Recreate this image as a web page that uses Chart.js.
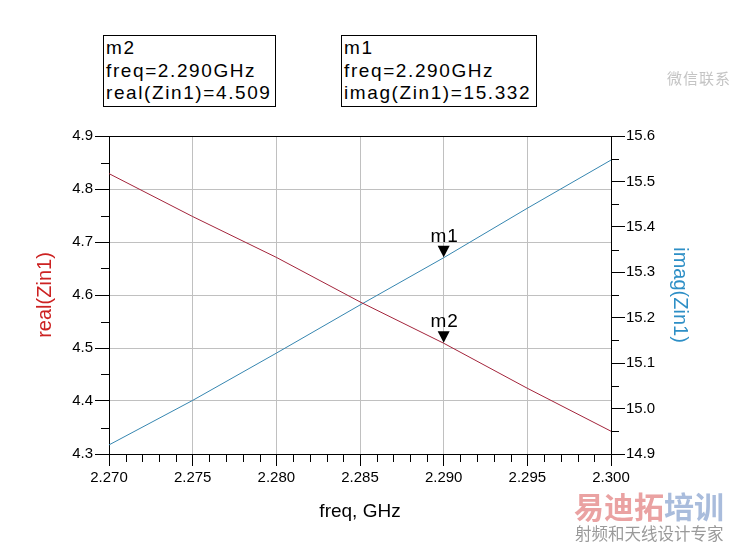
<!DOCTYPE html>
<html><head><meta charset="utf-8">
<script src="https://cdn.jsdelivr.net/npm/chart.js@4"></script>
<style>
html,body{margin:0;padding:0;background:#fff;}
#wrap{position:relative;width:734px;height:548px;overflow:hidden;}
#c{position:absolute;left:0;top:0;}
.box{position:absolute;border:1px solid #000;font-family:"Liberation Sans",Arial,sans-serif;font-size:19px;line-height:22.5px;letter-spacing:1.6px;padding:1px 0 0 2px;box-sizing:border-box;white-space:nowrap;color:#000;background:#fff}
.wm{position:absolute;font-family:"Noto Sans CJK SC",sans-serif;white-space:nowrap;line-height:1}
</style></head>
<body><div id="wrap"><canvas id="c" width="734" height="548"></canvas>
<div class="box" style="left:103px;top:35px;width:173px;height:72px">m2<br>freq=2.290GHz<br>real(Zin1)=4.509</div>
<div class="box" style="left:341px;top:35px;width:196px;height:72px">m1<br>freq=2.290GHz<br>imag(Zin1)=15.332</div>
<div class="wm" style="left:667px;top:70px;font-size:15px;color:#c4c4c4;letter-spacing:1px">微信联系</div>
<div class="wm" style="left:574px;top:490px;font-size:30px;font-weight:bold"><span style="color:#eaa2a2">易迪拓</span><span style="color:#a9bcdc">培训</span></div>
<div class="wm" style="left:575px;top:525px;font-size:16.5px;color:#9a9a9a">射频和天线设计专家</div>
</div>
<script>
// ---- data ----
const freq = [2.270, 2.275, 2.280, 2.285, 2.290, 2.295, 2.300];
const realZin1 = [4.829, 4.748, 4.671, 4.587, 4.509, 4.424, 4.343];
const imagZin1 = [14.920, 15.018, 15.122, 15.228, 15.332, 15.441, 15.547];
const xTicks = [2.270, 2.275, 2.280, 2.285, 2.290, 2.295, 2.300];
const yLeftTicks = [4.3, 4.4, 4.5, 4.6, 4.7, 4.8, 4.9];
const yRightTicks = [14.9, 15.0, 15.1, 15.2, 15.3, 15.4, 15.5, 15.6];
const markerNames = ['m1', 'm2'];
const markerFreq = [2.290, 2.290];
const markerValues = [15.332, 4.509];
const markerAxes = ['y1', 'y'];

const RED = '#a3243b', BLUE = '#3686b0';
const tickFont = {family: '"Liberation Sans", Arial, sans-serif', size: 15};
const titleFontF = '"Liberation Sans", Arial, sans-serif';

function setTicks(arr) { return s => { s.ticks = arr.map(v => ({value: v})); }; }

const extras = {
  id: 'extras',
  afterDraw(chart) {
    const ctx = chart.ctx, a = chart.chartArea;
    const sx = chart.scales.x, sy = chart.scales.y, sy1 = chart.scales.y1;
    ctx.save();
    ctx.strokeStyle = '#000'; ctx.lineWidth = 1;
    // top frame line
    ctx.beginPath(); ctx.moveTo(a.left, Math.round(a.top) + 0.5); ctx.lineTo(a.right + 1, Math.round(a.top) + 0.5); ctx.stroke();
    // minor ticks
    ctx.beginPath();
    for (let i = 0; i < xTicks.length - 1; i++) {
      for (let k = 1; k < 5; k++) {
        const v = xTicks[i] + (xTicks[i + 1] - xTicks[i]) * k / 5;
        const px = Math.round(sx.getPixelForValue(v)) + 0.5;
        ctx.moveTo(px, a.bottom); ctx.lineTo(px, a.bottom + 8);
      }
    }
    for (let i = 0; i < yLeftTicks.length - 1; i++) {
      const v = (yLeftTicks[i] + yLeftTicks[i + 1]) / 2;
      const py = Math.round(sy.getPixelForValue(v)) + 0.5;
      ctx.moveTo(a.left, py); ctx.lineTo(a.left - 8, py);
    }
    for (let i = 0; i < yRightTicks.length - 1; i++) {
      const v = (yRightTicks[i] + yRightTicks[i + 1]) / 2;
      const py = Math.round(sy1.getPixelForValue(v)) + 0.5;
      ctx.moveTo(a.right, py); ctx.lineTo(a.right + 8, py);
    }
    ctx.stroke();
    // markers
    ctx.fillStyle = '#000';
    ctx.font = '19px ' + titleFontF;
    ctx.textAlign = 'center'; ctx.textBaseline = 'alphabetic';
    try { ctx.letterSpacing = '1px'; } catch (e) {}
    for (let i = 0; i < markerNames.length; i++) {
      const px = sx.getPixelForValue(markerFreq[i]);
      const py = chart.scales[markerAxes[i]].getPixelForValue(markerValues[i]);
      ctx.beginPath();
      ctx.moveTo(px, py - 0.5);
      ctx.lineTo(px - 6, py - 12);
      ctx.lineTo(px + 6, py - 12);
      ctx.closePath(); ctx.fill();
      ctx.fillText(markerNames[i], px + 1, py - 16);
    }
    ctx.restore();
  }
};

new Chart(document.getElementById('c'), {
  type: 'line',
  data: {
    datasets: [
      {label: 'real(Zin1)', data: freq.map((f, i) => ({x: f, y: realZin1[i]})), yAxisID: 'y',
       borderColor: RED, borderWidth: 1, pointRadius: 0, tension: 0, fill: false},
      {label: 'imag(Zin1)', data: freq.map((f, i) => ({x: f, y: imagZin1[i]})), yAxisID: 'y1',
       borderColor: BLUE, borderWidth: 1, pointRadius: 0, tension: 0, fill: false}
    ]
  },
  options: {
    responsive: false, animation: false,
    layout: {padding: {top: 136, left: 0, right: 0, bottom: 0}},
    plugins: {legend: {display: false}, tooltip: {enabled: false}},
    scales: {
      x: {
        type: 'linear', min: 2.27, max: 2.30,
        afterBuildTicks: setTicks(xTicks),
        afterFit: s => { s.height = 94; },
        ticks: {font: tickFont, color: '#000', padding: 3, maxRotation: 0, autoSkip: false,
                callback: v => v.toFixed(3)},
        grid: {color: '#c0c0c0', tickColor: '#000', tickLength: 12, lineWidth: 1},
        border: {color: '#000'},
        title: {display: true, text: 'freq, GHz', color: '#000',
                font: {family: titleFontF, size: 19}, padding: {top: 0, bottom: 25}}
      },
      y: {
        type: 'linear', position: 'left', min: 4.3, max: 4.9,
        afterBuildTicks: setTicks(yLeftTicks),
        afterFit: s => { s.width = 109; },
        ticks: {font: tickFont, color: '#000', padding: 2, callback: v => v.toFixed(1)},
        grid: {color: '#c0c0c0', tickColor: '#000', tickLength: 14, lineWidth: 1},
        border: {color: '#000'},
        title: {display: true, text: 'real(Zin1)', color: '#cc2222',
                font: {family: titleFontF, size: 20}, padding: {top: 33, bottom: 0}}
      },
      y1: {
        type: 'linear', position: 'right', min: 14.9, max: 15.6,
        afterBuildTicks: setTicks(yRightTicks),
        afterFit: s => { s.width = 123; },
        ticks: {font: tickFont, color: '#000', padding: 1, callback: v => v.toFixed(1)},
        grid: {drawOnChartArea: false, tickColor: '#000', tickLength: 14},
        border: {color: '#000'},
        title: {display: true, text: 'imag(Zin1)', color: '#2e8fc6',
                font: {family: titleFontF, size: 20}, padding: {top: 42, bottom: 0}}
      }
    }
  },
  plugins: [extras]
});
</script>
</body></html>
